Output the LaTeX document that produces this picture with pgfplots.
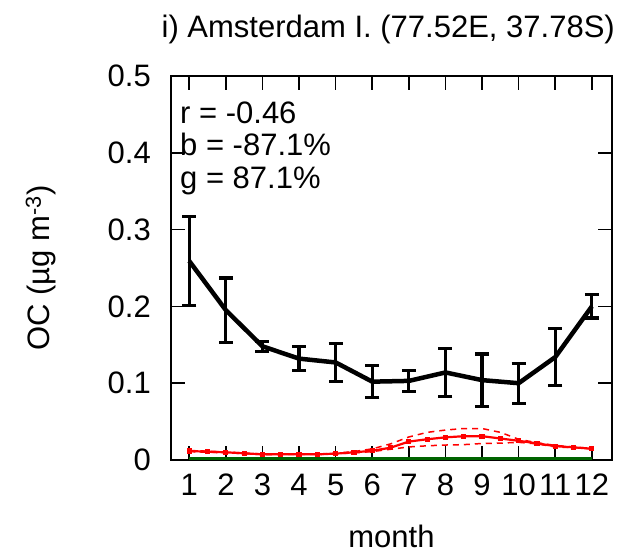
\documentclass[border=0pt]{standalone}
\usepackage{fontspec}
\setmainfont{Liberation Sans}
\usepackage{pgfplots}
\pgfplotsset{compat=1.18}
\definecolor{dkgreen}{RGB}{0,100,0}
\begin{document}
\fontsize{31}{34}\selectfont
\begin{tikzpicture}
\begin{axis}[
  name=ax,
  scale only axis,
  width=441pt, height=384pt,
  xmin=0.5, xmax=12.55,
  ymin=0, ymax=0.5,
  xtick={1,...,12},
  ytick={0,0.1,...,0.5},
  yticklabel style={/pgf/number format/fixed, /pgf/number format/precision=1,
    anchor=east, inner sep=0pt, xshift=-20pt},
  xticklabel style={anchor=base, inner sep=0pt, yshift=-35pt},
  /pgf/number format/assume math mode=true,
  tick align=inside,
  major tick length=14pt,
  tick style={black, line width=1.6pt},
  axis line style={line width=2.6pt},
  xlabel={month},
  ylabel={OC (µg m\textsuperscript{-3})},
  xlabel style={at={([yshift=-87pt]rel axis cs:0.5,0)}, anchor=base, inner sep=0pt},
  ylabel style={at={([xshift=-130pt]rel axis cs:0,0.5)}, anchor=center, inner sep=0pt},
  clip=false,
]
% model (green)
\addplot[dkgreen, line width=2.2pt] coordinates {
  (1,0.002) (12,0.002)
};
% model upper/lower (dashed red)
\addplot[red, line width=1.5pt, dash pattern=on 6pt off 5pt] coordinates {
  (1,0.0125) (1.5,0.0115) (2,0.0105) (2.5,0.009) (3,0.0078) (3.5,0.0076) (4,0.0076)
  (4.5,0.0076) (5,0.0087) (5.5,0.011) (6,0.0145) (6.5,0.021) (7,0.030) (7.5,0.036)
  (8,0.039) (8.5,0.041) (9,0.041) (9.5,0.036) (10,0.027) (10.5,0.0225) (11,0.019)
  (11.5,0.017) (12,0.015)
};
\addplot[red, line width=1.5pt, dash pattern=on 6pt off 5pt] coordinates {
  (1,0.011) (1.5,0.010) (2,0.0095) (2.5,0.0083) (3,0.007) (3.5,0.0072) (4,0.0072)
  (4.5,0.0072) (5,0.008) (5.5,0.0092) (6,0.011) (6.5,0.014) (7,0.017) (7.5,0.0185)
  (8,0.0195) (8.5,0.020) (9,0.0215) (9.5,0.022) (10,0.023) (10.5,0.021) (11,0.017)
  (11.5,0.016) (12,0.0145)
};
% model (solid red)
\addplot[red, line width=2.2pt, mark=square*, mark size=1.5pt] coordinates {
  (1,0.0117) (1.5,0.0108) (2,0.010) (2.5,0.0087) (3,0.0074) (3.5,0.0074) (4,0.0074)
  (4.5,0.0074) (5,0.0083) (5.5,0.010) (6,0.012) (6.5,0.016) (7,0.024) (7.5,0.027)
  (8,0.0295) (8.5,0.031) (9,0.031) (9.5,0.028) (10,0.025) (10.5,0.0217) (11,0.018)
  (11.5,0.0165) (12,0.0147)
};
% observations
\addplot[black, line width=4.5pt, mark=none,
  error bars/.cd, y dir=both, y explicit,
  error bar style={line width=3.2pt},
  error mark options={rotate=90, mark size=7pt, line width=3.2pt}]
coordinates {
  (1,0.259)  +- (0,0.058)
  (2,0.195)  +- (0,0.042)
  (3,0.148)  +- (0,0.0065)
  (4,0.132)  +- (0,0.0155)
  (5,0.127)  +- (0,0.025)
  (6,0.102)  +- (0,0.021)
  (7,0.103)  +- (0,0.0135)
  (8,0.114)  +- (0,0.0315)
  (9,0.104)  +- (0,0.034)
  (10,0.100) +- (0,0.026)
  (11,0.134) +- (0,0.0375)
  (12,0.200) +- (0,0.015)
};
\node[anchor=base west, inner sep=0pt] at ([xshift=9pt,yshift=-47pt]rel axis cs:0,1) {r = -0.46};
\node[anchor=base west, inner sep=0pt] at ([xshift=9pt,yshift=-79pt]rel axis cs:0,1) {b = -87.1\%};
\node[anchor=base west, inner sep=0pt] at ([xshift=9pt,yshift=-112pt]rel axis cs:0,1) {g = 87.1\%};
\node[anchor=base east, inner sep=0pt] at ([xshift=3pt,yshift=39pt]rel axis cs:1,1)
  {i) Amsterdam I. (77.52E, 37.78S)};
\end{axis}
\pgfresetboundingbox
\useasboundingbox ([xshift=-171pt,yshift=-92pt]ax.south west) rectangle ([xshift=454pt,yshift=460pt]ax.south west);
\end{tikzpicture}
\end{document}
